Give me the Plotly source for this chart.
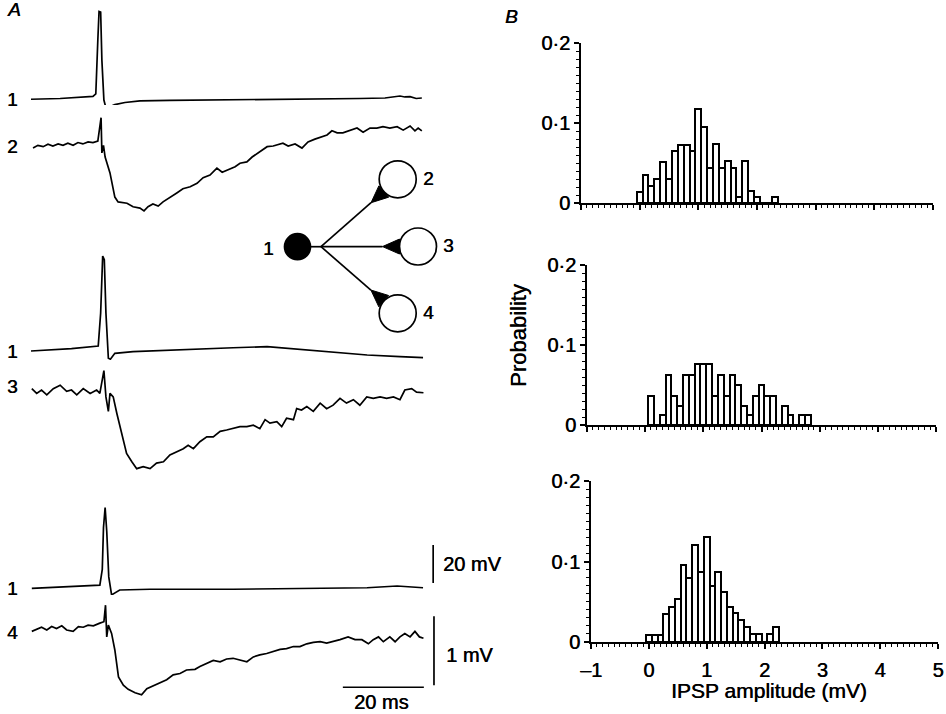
import plotly.graph_objects as go

W, H = 946, 714

# ---------------- panel A: paired recordings ----------------
# time in ms from the start of the sweep, voltage relative to baseline
# (presynaptic cell 1 in mV, postsynaptic IPSPs in mV)
pre_a_t = [0, 7.2, 15.3, 16.0, 16.5, 16.8, 17.2, 17.5, 18.0, 18.5, 19.3, 20.7, 23.2, 26.9,
           34.3, 49.1, 66.4, 81.2, 87.4, 91.1, 92.3, 93.6, 95.1, 96.5]
pre_a_v = [0.4, 0.8, 1.9, 3.2, 31.6, 46.6, 46.3, 21, 0, -4.2, -3.7, -2.4, -1.3, -0.5,
           -0.2, 0, 0.4, 0.8, 1.05, 2.1, 1.6, 1.8, 0.8, 1.05]

ipsp2_t = [0.5, 1.7, 3.0, 4.2, 5.4, 6.7, 7.9, 9.1, 10.4, 11.6, 12.8, 14.1, 15.3, 16.5,
           17.3, 17.5, 17.9, 18.3,
           19.5, 20.7, 21.5, 23.7, 25.2, 26.9, 27.9, 28.9, 30.1, 31.4,
           32.6, 34.3, 36.0, 37.5, 39.3, 41.0, 42.5, 44.2, 45.9, 47.2,
           48.6, 50.4, 51.6, 53.3, 54.6, 56.0, 58.3, 59.8, 62.2, 63.5,
           65.2, 66.9, 68.4, 70.1, 71.9, 73.1, 74.3, 75.6, 77.0, 78.8,
           80.5, 82.0, 83.7, 85.4, 86.9, 88.6, 90.4, 91.9, 93.6, 94.8,
           95.6, 96.5]
ipsp2_v = [-0.03, 0.01, -0.01, 0.025, 0, 0.03, 0.01, 0.04, 0.01, 0.05, 0.03, 0.06, 0.05, 0.07,
           0.41, -0.10, 0.01, -0.16,
           -0.39, -0.74, -0.81, -0.83, -0.88, -0.90, -0.94, -0.88, -0.84, -0.87,
           -0.81, -0.75, -0.68, -0.62, -0.59, -0.54, -0.46, -0.42, -0.32, -0.38,
           -0.35, -0.30, -0.25, -0.23, -0.16, -0.10, -0.01, 0, 0.04, 0,
           0.03, -0.03, 0.06, 0.10, 0.13, 0.16, 0.22, 0.19, 0.19, 0.23,
           0.26, 0.20, 0.26, 0.26, 0.28, 0.26, 0.28, 0.23, 0.29, 0.22,
           0.26, 0.22]

pre_b_t = [0, 10, 16.6, 17.2, 17.7, 18.1, 18.5, 19.1, 19.6, 20.7, 25.2, 37.5, 49.9, 58.3,
           66.4, 74.6, 83.0, 91.1, 96.8]
pre_b_v = [0, 1.2, 2.6, 20, 50, 48, 20, -3.8, -4.3, -1.2, -0.3, 0.5, 1.7, 2.3,
           0.9, -0.9, -2.1, -3.0, -3.5]

ipsp3_t = [0.2, 1.4, 2.6, 3.9, 5.5, 7.2, 8.8, 10.0, 11.3, 12.9, 14.6, 16.2, 17.0,
           18.0, 18.5, 19.1, 19.5, 20.3, 21.2, 22.4, 23.6, 24.9, 26.1, 27.7, 29.4,
           31.0, 32.7, 34.3, 36.0, 37.6, 38.8, 40.1, 41.7, 43.4, 45.0, 46.7, 48.3,
           49.9, 51.6, 53.3, 54.9, 56.5, 57.8, 59.0, 60.7, 61.9, 63.1, 64.8, 65.6,
           66.8, 68.1, 69.7, 71.4, 73.0, 74.6, 76.3, 77.9, 79.6, 81.2, 82.9, 84.5,
           86.2, 87.8, 89.5, 91.1, 92.3, 94.0, 95.2, 96.9]
ipsp3_v = [0.02, -0.05, 0, -0.07, 0.02, 0.07, -0.02, 0, -0.07, 0.02, -0.05, 0, -0.05,
           0.28, -0.10, -0.31, -0.05, -0.10, -0.34, -0.63, -0.92, -1.04, -1.14, -1.11, -1.14,
           -1.06, -1.04, -0.94, -0.89, -0.85, -0.80, -0.85, -0.75, -0.68, -0.68, -0.60, -0.58,
           -0.56, -0.53, -0.53, -0.51, -0.56, -0.43, -0.48, -0.46, -0.53, -0.41, -0.43, -0.27,
           -0.29, -0.24, -0.31, -0.19, -0.27, -0.22, -0.12, -0.19, -0.14, -0.22, -0.10, -0.12,
           -0.10, -0.12, -0.10, -0.14, 0, 0.02, -0.03, -0.04]

pre_c_t = [0.2, 10, 17.0, 17.6, 17.9, 18.3, 18.7, 19.2, 19.9, 21.9, 29.4, 49.9, 72.1,
           83.0, 90.4, 96.8]
pre_c_v = [0, 0.8, 1.7, 10, 32, 42.5, 30, 6, -3.5, -0.9, -0.5, -0.5, 0.3,
           0.3, 1.2, 0.3]

ipsp4_t = [0.2, 1.4, 2.6, 3.9, 5.1, 6.3, 7.6, 8.8, 10.4, 11.7, 12.9, 14.1, 15.4, 17.0,
           18.0, 18.4, 18.7, 19.1, 19.9, 20.7, 21.6, 22.8, 24.0, 25.7, 27.3, 28.6,
           30.2, 31.9, 33.5, 35.1, 36.8, 38.4, 40.5, 41.7, 43.4, 45.0, 46.7, 48.3,
           49.9, 51.6, 53.3, 54.9, 56.5, 58.2, 59.8, 61.5, 63.1, 64.8, 66.4, 68.1,
           69.7, 71.4, 73.0, 74.6, 76.3, 78.3, 80.0, 81.7, 83.3, 84.5, 85.8, 87.0,
           88.6, 89.9, 91.1, 92.3, 93.6, 94.8, 95.9, 96.9]
ipsp4_v = [-0.02, 0.01, 0.04, 0, 0.05, 0.02, 0.06, 0, -0.02, 0.05, 0.04, 0.07, 0.06, 0.10,
           0.12, 0.36, -0.10, 0.07, -0.05, -0.29, -0.68, -0.80, -0.86, -0.91, -0.94, -0.85,
           -0.81, -0.76, -0.72, -0.65, -0.63, -0.58, -0.57, -0.53, -0.48, -0.44, -0.46, -0.42,
           -0.41, -0.43, -0.46, -0.39, -0.36, -0.34, -0.31, -0.28, -0.27, -0.24, -0.24, -0.20,
           -0.18, -0.17, -0.19, -0.17, -0.14, -0.10, -0.14, -0.14, -0.20, -0.14, -0.10, -0.17,
           -0.10, -0.17, -0.10, -0.05, -0.10, -0.02, -0.10, -0.12]

# scale bars: 20 mV (spike), 1 mV (IPSP), 20 ms
bar_mv20_t = [99.3, 99.3]
bar_mv20_v = [2.8, 22.8]
bar_mv1_t = [99.5, 99.5]
bar_mv1_v = [0.2, -0.8]
bar_ms_t = [77.0, 97.0]
bar_ms_v = [-0.83, -0.83]

# ---------------- panel B: IPSP amplitude histograms ----------------
amp_2 = [0.0, 0.1, 0.2, 0.3, 0.4, 0.5, 0.6, 0.7, 0.8, 0.9, 1.0, 1.1, 1.2, 1.3, 1.4, 1.5,
         1.6, 1.7, 1.8, 1.9, 2.0, 2.1, 2.2, 2.3]
prob_2 = [0.014, 0.035, 0.021, 0.030, 0.051, 0.030, 0.065, 0.073, 0.073, 0.065, 0.117, 0.095,
          0.044, 0.074, 0.044, 0.052, 0.044, 0.008, 0.052, 0.015, 0.008, 0, 0, 0.008]

amp_3 = [0.1, 0.2, 0.3, 0.4, 0.5, 0.6, 0.7, 0.8, 0.9, 1.0, 1.1, 1.2, 1.3, 1.4, 1.5, 1.6,
         1.7, 1.8, 1.9, 2.0, 2.1, 2.2, 2.3, 2.4, 2.5, 2.6, 2.7, 2.8]
prob_3 = [0.036, 0, 0.012, 0.062, 0.036, 0.024, 0.062, 0.062, 0.076, 0.076, 0.076, 0.036,
          0.062, 0.036, 0.062, 0.050, 0.024, 0.012, 0.036, 0.050, 0.036, 0.036, 0, 0.024,
          0.012, 0, 0.012, 0.012]

amp_4 = [0.0, 0.1, 0.2, 0.3, 0.4, 0.5, 0.6, 0.7, 0.8, 0.9, 1.0, 1.1, 1.2, 1.3, 1.4, 1.5,
         1.6, 1.7, 1.8, 1.9, 2.0, 2.1, 2.2]
prob_4 = [0.009, 0.009, 0.009, 0.035, 0.044, 0.053, 0.096, 0.079, 0.121, 0.087, 0.131, 0.070,
          0.087, 0.062, 0.044, 0.036, 0.027, 0.019, 0.010, 0.010, 0, 0.010, 0.019]

FONT = "Liberation Sans"
INK = "0.5px 0px 0px black"   # thickens the strokes a little, like the printed scan
MS_PX = 4.05  # pixels per ms in panel A


def fx(px):
    return px / W


def fy(py):
    return 1 - py / H


def band(top, bottom, zero, ppu):
    # invisible y axis putting value 0 at pixel row `zero`, ppu pixels per unit
    return dict(domain=[fy(bottom), fy(top)],
                range=[(zero - bottom) / ppu, (zero - top) / ppu],
                visible=False, anchor="x", fixedrange=True, automargin=False)


fig = go.Figure()

traces = [
    (pre_a_t, pre_a_v, "y"), (ipsp2_t, ipsp2_v, "y2"),
    (pre_b_t, pre_b_v, "y3"), (ipsp3_t, ipsp3_v, "y4"),
    (pre_c_t, pre_c_v, "y5"), (ipsp4_t, ipsp4_v, "y6"),
    (bar_mv20_t, bar_mv20_v, "y5"), (bar_mv1_t, bar_mv1_v, "y6"),
    (bar_ms_t, bar_ms_v, "y6"),
]
for t, v, ya in traces:
    fig.add_trace(go.Scatter(x=t, y=v, mode="lines", xaxis="x", yaxis=ya,
                             line=dict(color="black", width=1.7), hoverinfo="skip"))

hists = [(amp_2, prob_2, "x2", "y7"), (amp_3, prob_3, "x3", "y8"), (amp_4, prob_4, "x4", "y9")]
for a, p, xa, ya in hists:
    fig.add_trace(go.Bar(x=a, y=p, width=0.1, xaxis=xa, yaxis=ya,
                         marker=dict(color="white", line=dict(color="black", width=2))))

layout = dict(
    template="none",
    width=W, height=H, margin=dict(l=0, r=0, t=0, b=0, pad=0),
    paper_bgcolor="white", plot_bgcolor="white", showlegend=False, bargap=0,
    font=dict(family=FONT, size=20, color="black"),
    xaxis=dict(domain=[0, 0.5], range=[-31 / MS_PX, (473 - 31) / MS_PX],
               visible=False, anchor="y", fixedrange=True, automargin=False),
    yaxis=band(0, 125, 100, 1.9),
    yaxis2=band(105, 225, 146, 69),
    yaxis3=band(240, 370, 351, 1.9),
    yaxis4=band(360, 480, 390, 69),
    yaxis5=band(490, 605, 588.3, 1.9),
    yaxis6=band(595, 714, 630, 69),
)

# histogram panels: (x-axis pixel span, y pixel rows of 0.2 and 0)
panels = [(581, 933, 43, 203), (587, 936, 265, 425), (591, 938, 481, 642)]
for i, (x0, x1, ytop, yzero) in enumerate(panels):
    xn, yn = i + 2, i + 7
    last = i == 2
    layout["xaxis%d" % xn] = dict(
        domain=[fx(x0), fx(x1)], range=[-1, 5], anchor="y%d" % yn, automargin=False,
        showline=True, linecolor="black", linewidth=1.7, showgrid=False, zeroline=False,
        tickmode="array", tickvals=[-1, 0, 1, 2, 3, 4, 5],
        ticktext=["–1", "0", "1", "2", "3", "4", "5"] if last else [""] * 7,
        ticks="outside", ticklen=5, tickwidth=1.5, tickcolor="black",
        tickfont=dict(size=20, shadow=INK), ticklabelstandoff=4,
        minor=dict(tickmode="linear", tick0=0, dtick=0.1, ticks="outside",
                   ticklen=3, tickwidth=1, tickcolor="black"),
        fixedrange=True)
    layout["yaxis%d" % yn] = dict(
        domain=[fy(yzero), fy(ytop)], range=[0, 0.2], anchor="x%d" % xn, automargin=False,
        showline=True, linecolor="black", linewidth=1.7, showgrid=False, zeroline=False,
        tickmode="array", tickvals=[0, 0.1, 0.2], ticktext=["0", "0·1", "0·2"],
        ticks="outside", ticklen=5, tickwidth=1.5, tickcolor="black",
        tickfont=dict(size=20, shadow=INK),
        minor=dict(tickmode="linear", tick0=0, dtick=0.01, ticks="outside",
                   ticklen=3, tickwidth=1, tickcolor="black"),
        fixedrange=True)

fig.update_layout(**layout)


def label(text, px, py, size=20, xanchor="center", angle=0, italic=False):
    fig.add_annotation(text=text, x=fx(px), y=fy(py), xref="paper", yref="paper",
                       showarrow=False, xanchor=xanchor, yanchor="middle", textangle=angle,
                       font=dict(family=FONT, size=size, color="black", shadow=INK,
                                 style="italic" if italic else "normal"))


label("A", 14, 10, size=19, italic=True)
label("B", 511, 16, size=19, italic=True)
for txt, py in [("1", 100), ("2", 147), ("1", 351), ("3", 386), ("1", 588), ("4", 632)]:
    label(txt, 12, py, size=19)
label("20 mV", 441, 564, xanchor="left")
label("1 mV", 444, 655, xanchor="left")
label("20 ms", 381, 702)
label("Probability", 518, 336, size=22, angle=-90)
label("IPSP amplitude (mV)", 769, 690, size=21)

# connection diagram: cell 1 contacting cells 2, 3 and 4
src = (297.5, 246.7, 13)
hub = (321, 246.7)
cells = [(397.7, 179.3, "2"), (418, 246.5, "3"), (397.7, 313.3, "4")]
r_cell = 18.5
shapes = []


def circle(cx, cy, r, fill):
    return dict(type="circle", xref="paper", yref="paper",
                x0=fx(cx - r), x1=fx(cx + r), y0=fy(cy + r), y1=fy(cy - r),
                line=dict(color="black", width=1.7), fillcolor=fill, layer="above")


shapes.append(dict(type="line", xref="paper", yref="paper", x0=fx(src[0]), y0=fy(src[1]),
                   x1=fx(hub[0]), y1=fy(hub[1]), line=dict(color="black", width=1.7)))
shapes.append(circle(src[0], src[1], src[2], "black"))
for cx, cy, name in cells:
    dx, dy = cx - hub[0], cy - hub[1]
    dist = (dx ** 2 + dy ** 2) ** 0.5
    ux, uy = dx / dist, dy / dist
    bx, by = hub[0] + ux * (dist - r_cell), hub[1] + uy * (dist - r_cell)
    tx, ty = bx - ux * 17, by - uy * 17
    shapes.append(dict(type="line", xref="paper", yref="paper", x0=fx(hub[0]), y0=fy(hub[1]),
                       x1=fx(tx), y1=fy(ty), line=dict(color="black", width=1.7)))
    px_, py_ = -uy * 7.5, ux * 7.5
    path = "M %f %f L %f %f L %f %f Z" % (fx(tx), fy(ty), fx(bx + px_), fy(by + py_),
                                          fx(bx - px_), fy(by - py_))
    shapes.append(dict(type="path", xref="paper", yref="paper", path=path,
                       fillcolor="black", line=dict(color="black", width=1)))
    shapes.append(circle(cx, cy, r_cell, "white"))
    label(name, cx + r_cell + 12, cy - 1, size=19)
label("1", 268, 248, size=19)

fig.update_layout(shapes=shapes)

# the page's default 8px body margin would push the figure off the 946x714 window
fig.write_html("out.html", config={"displayModeBar": False},
               post_script="document.body.style.margin = '0px';")
